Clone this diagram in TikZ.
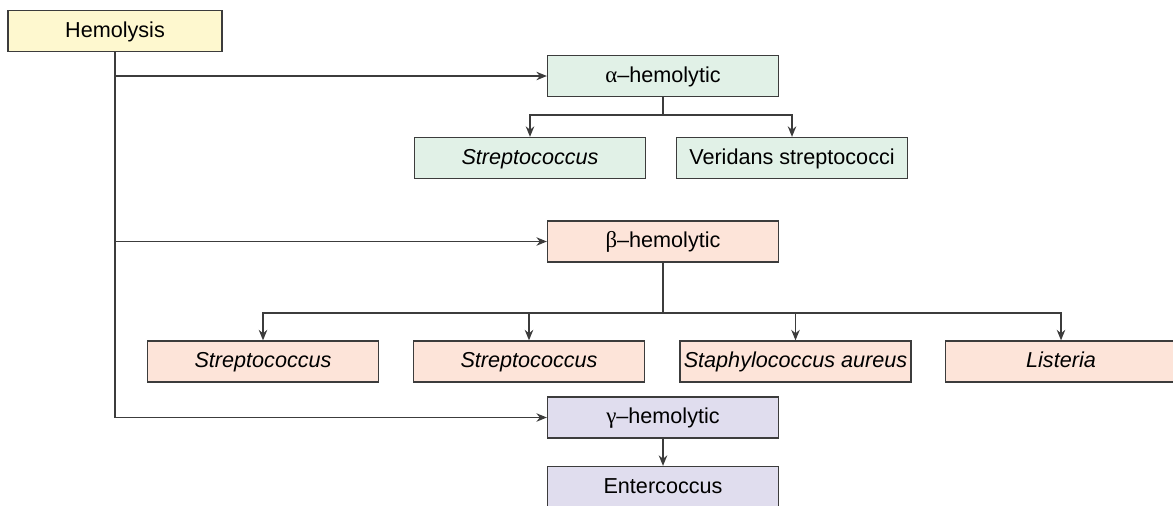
\documentclass[tikz,border=0pt]{standalone}
\usepackage{fontspec}
\setmainfont{Liberation Sans}
\newfontfamily\greekfont{Liberation Serif}
\usepackage{tikz}
\usetikzlibrary{calc}
\usetikzlibrary{positioning}
\usetikzlibrary{arrows.meta}
\definecolor{lineColor}{HTML}{3C3C3C}
\definecolor{rootColor}{HTML}{FEF8CF}
\definecolor{alphaColor}{HTML}{E1F1E7}
\definecolor{betaColor}{HTML}{FDE4D9}
\definecolor{gammaColor}{HTML}{E0DDEE}
\newcommand{\grk}[1]{{\greekfont\fontsize{13}{14}\selectfont #1}}

\begin{document}
\begin{tikzpicture}[x=0.02cm, y=-0.02cm,
		box/.style={draw=lineColor, line width=0.75pt, minimum height=0.82cm, minimum width=4.62cm, font=\fontsize{12.3}{14}\selectfont, text height=1.75ex, text depth=0.45ex, inner sep=0pt},
		link/.style={draw=lineColor, line width=0.8pt},
		arr/.style={link, -{Stealth[length=2.1mm, width=1.7mm]}}
		]
		\clip (0,0) rectangle (1173,505);

		\node[box, fill=rootColor, minimum width=4.28cm] (hem) at (115,31) {Hemolysis};

		% alpha branch
		\node[box, fill=alphaColor] (alpha) at (663,76) {\grk{α}–hemolytic};
		\node[box, fill=alphaColor] (a1) at (530,158) {\textit{Streptococcus}};
		\node[box, fill=alphaColor] (a2) at (792,158) {Veridans streptococci};

		% beta branch
		\node[box, fill=betaColor] (beta) at (663,241.5) {\grk{β}–hemolytic};
		\node[box, fill=betaColor] (b1) at (263,361.5) {\textit{Streptococcus}};
		\node[box, fill=betaColor] (b2) at (529,361.5) {\textit{Streptococcus}};
		\node[box, fill=betaColor] (b3) at (795.5,361.5) {\textit{Staphylococcus aureus}};
		\node[box, fill=betaColor] (b4) at (1061,361.5) {\textit{Listeria}};

		% gamma branch
		\node[box, fill=gammaColor] (gamma) at (663,417.5) {\grk{γ}–hemolytic};
		\node[box, fill=gammaColor] (g1) at (663,487) {Entercoccus};

		\coordinate (abus) at (663,115);
		\coordinate (bbus) at (663,313);

		\draw[arr] (hem.south) |- (alpha.west);
		\draw[arr] (hem.south) |- (beta.west);
		\draw[arr] (hem.south) |- (gamma.west);

		\draw[link] (alpha.south) -- (abus);
		\draw[arr] (abus) -| (a1.north);
		\draw[arr] (abus) -| (a2.north);

		\draw[link] (beta.south) -- (bbus);
		\draw[arr] (bbus) -| (b1.north);
		\draw[arr] (bbus) -| (b2.north);
		\draw[arr] (bbus) -| (b3.north);
		\draw[arr] (bbus) -| (b4.north);

		\draw[arr] (gamma.south) -- (g1.north);
	\end{tikzpicture}
\end{document}
